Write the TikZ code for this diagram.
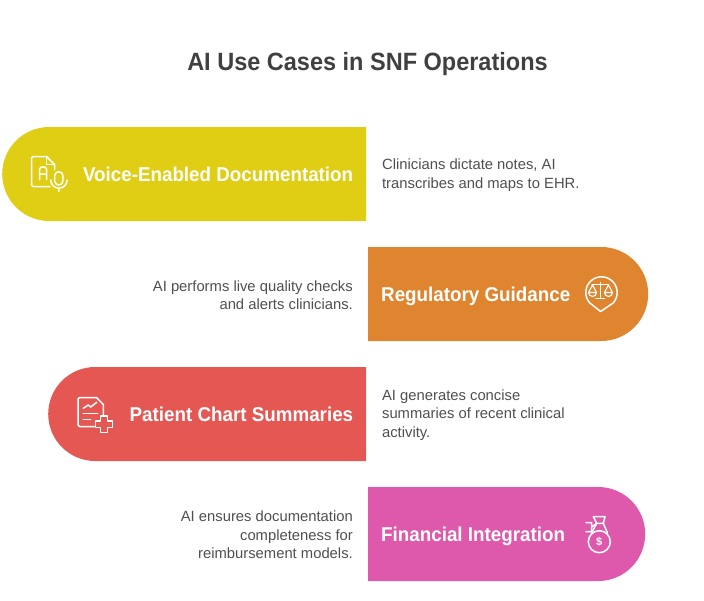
\documentclass[tikz,border=0pt]{standalone}
\usepackage{xcolor}
\usepackage{fontspec}
\setmainfont{Liberation Sans}
\newfontfamily\narrowfont[FakeStretch=0.94]{Liberation Sans}
\usetikzlibrary{shapes.misc, positioning}

\definecolor{pillyellow}{HTML}{E0CE14}
\definecolor{pillorange}{HTML}{DF8530}
\definecolor{pillred}{HTML}{E55753}
\definecolor{pillpink}{HTML}{DE59AC}
\definecolor{bodygray}{HTML}{4F4F4F}
\definecolor{titlegray}{HTML}{404040}

\begin{document}
\begin{tikzpicture}[
    x=1pt, y=-1pt,
    pill/.style={rounded rectangle, minimum height=94pt, inner sep=0pt, draw=none},
    pillleft/.style={pill, rounded rectangle east arc=none},
    pillright/.style={pill, rounded rectangle west arc=none},
    label/.style={inner sep=0pt, text=white, text height=15pt, text depth=1pt, font=\fontsize{20}{24}\narrowfont\bfseries},
    bodyleft/.style={inner sep=0pt, text=bodygray, align=left, yshift=-1pt, font=\fontsize{14.8}{18.4}\selectfont},
    bodyright/.style={inner sep=0pt, text=bodygray, align=right, yshift=-1pt, font=\fontsize{14.8}{18.4}\selectfont},
    icon/.style={draw=white, line width=1.5pt, line join=round, line cap=round}
]
\useasboundingbox (0,0) rectangle (704,600);

% Title
\node[inner sep=0pt, text=titlegray, font=\fontsize{25}{30}\narrowfont\bfseries] (title) at (367.5,64) {AI Use Cases in SNF Operations};

% Pills
\node[pillleft, fill=pillyellow, minimum width=364pt, anchor=west] (voice) at (2,174) {};
\node[pillright, fill=pillorange, minimum width=280pt, anchor=west] (regulatory) at (368,294) {};
\node[pillleft, fill=pillred, minimum width=318pt, anchor=west] (chart) at (48,414) {};
\node[pillright, fill=pillpink, minimum width=277pt, anchor=west] (financial) at (368,534) {};

% Labels
\node[label, left=13pt of voice.east] (voicelabel) {Voice-Enabled Documentation};
\node[label, right=13pt of regulatory.west] (regulatorylabel) {Regulatory Guidance};
\node[label, left=13pt of chart.east] (chartlabel) {Patient Chart Summaries};
\node[label, right=13pt of financial.west] (financiallabel) {Financial Integration};

% Descriptions
\node[bodyleft, right=15.5pt of voice.east] (voicetext) {Clinicians dictate notes, AI\\transcribes and maps to EHR.};
\node[bodyright, left=15pt of regulatory.west] (regulatorytext) {AI performs live quality checks\\and alerts clinicians.};
\node[bodyleft, right=15.5pt of chart.east] (charttext) {AI generates concise\\summaries of recent clinical\\activity.};
\node[bodyright, left=15pt of financial.west] (financialtext) {AI ensures documentation\\completeness for\\reimbursement models.};

% Voice icon
\draw[icon] (50,186.5) -- (33,186.5) -- (31.5,185) -- (31.5,158) -- (33,156.5) -- (46.5,156.5) -- (54.5,164.5) -- (54.5,169.5);
\draw[icon] (46.5,156.5) -- (46.5,164.5) -- (54.5,164.5);
\draw[icon] (39.5,179.5) -- (39.5,169) -- (41,167) -- (45,167) -- (46.5,169) -- (46.5,179.5) (39.5,174) -- (46.5,174);
\draw[icon, rounded corners=4pt] (54.7,171.7) rectangle (62.9,185);
\draw[icon] (50.7,180) arc[start angle=180, end angle=0, radius=8.2] (58.9,188.2) -- (58.9,191.5);

% Scales icon
\draw[icon] (600.6,311.5) -- (589.8,303) arc[start angle=138, end angle=402, radius=15.7] -- cycle;
\draw[icon] (592,284.5) -- (608.5,284.5) (600.3,282.5) -- (600.3,298.3) (596,298.3) -- (604.5,298.3);
\draw[icon, line width=1.1pt] (588.5,292.5) -- (596.5,292.5) arc[start angle=0, end angle=180, radius=4] (588.5,292.5) -- (592.5,285) -- (596.5,292.5);
\draw[icon, line width=1.1pt] (604.5,292.5) -- (612.5,292.5) arc[start angle=0, end angle=180, radius=4] (604.5,292.5) -- (608.5,285) -- (612.5,292.5);

% Chart icon
\draw[icon] (94.5,426.5) -- (79.5,426.5) -- (78,425) -- (78,399) -- (79.5,397.5) -- (96.5,397.5) -- (103.3,404.5) -- (103.3,414.5);
\draw[icon] (83.3,408.3) -- (88.3,405) -- (90.7,407) -- (96.7,402.3);
\draw[icon] (83.3,413.3) -- (97.7,413.3) (83.3,419.3) -- (90.7,419.3);
\draw[icon] (100.7,416) -- (107.3,416) -- (107.3,421) -- (112.3,421) -- (112.3,427.6) -- (107.3,427.6) -- (107.3,432.6) -- (100.7,432.6) -- (100.7,427.6) -- (95.7,427.6) -- (95.7,421) -- (100.7,421) -- cycle;

% Money bag icon
\draw[icon] (599.3,541.7) circle[radius=11];
\node[inner sep=0pt, text=white, font=\fontsize{11}{12}\selectfont\bfseries] (dollar) at (599.3,541.7) {\$};
\draw[icon] (596.7,523.3) -- (593.3,516.7) -- (605,516.7) -- (603.3,523.3) -- cycle;
\draw[icon] (596.7,523.3) -- (591.5,533) (603.3,523.3) -- (607.5,533);
\draw[icon] (586,522.5) -- (591.7,522.5) -- (591.7,531.5) -- (586,531.5) (591.7,527) -- (596.7,523.3);

\end{tikzpicture}
\end{document}
